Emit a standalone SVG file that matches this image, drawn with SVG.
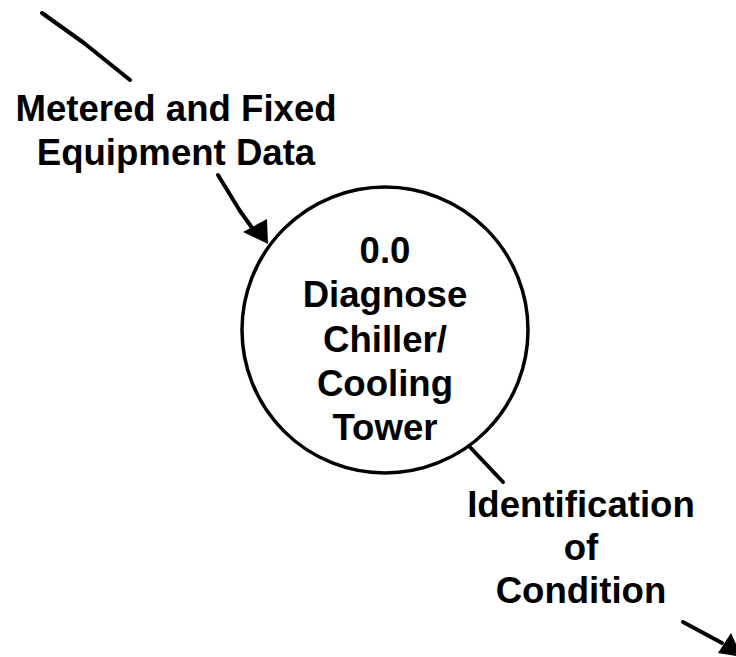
<svg xmlns="http://www.w3.org/2000/svg" width="736" height="657" viewBox="0 0 736 657">
<defs>
<style>
.t{font-family:"Liberation Sans",Arial,sans-serif;font-weight:bold;font-size:36.6px;fill:#000;text-anchor:middle}
.l{fill:none;stroke:#000;stroke-width:4;stroke-linecap:round;stroke-linejoin:round}
</style>
</defs>
<rect width="736" height="657" fill="#fff"/>
<g id="connectors">
<path class="l" d="M42,13 L84,43 L130,80"/>
<path class="l" d="M218,175 L240,211 L258,236"/>
<polygon points="268,244 243,232 267,219" fill="#000"/>
<path class="l" d="M468,445 L503,482"/>
<path class="l" d="M683,622 L722,643"/>
<polygon points="742,657 718,653 731,633" fill="#000"/>
</g>
<g id="process">
<circle cx="385" cy="330" r="143" fill="#fff" stroke="#000" stroke-width="3.5"/>
<text class="t" x="385" y="263">0.0</text>
<text class="t" x="385" y="307">Diagnose</text>
<text class="t" x="385" y="352">Chiller/</text>
<text class="t" x="385" y="396">Cooling</text>
<text class="t" x="385" y="440">Tower</text>
</g>
<g id="label-input">
<text class="t" x="176" y="121">Metered and Fixed</text>
<text class="t" x="176" y="165">Equipment Data</text>
</g>
<g id="label-output">
<text class="t" x="581" y="517">Identification</text>
<text class="t" x="581" y="560">of</text>
<text class="t" x="581" y="603">Condition</text>
</g>
</svg>
